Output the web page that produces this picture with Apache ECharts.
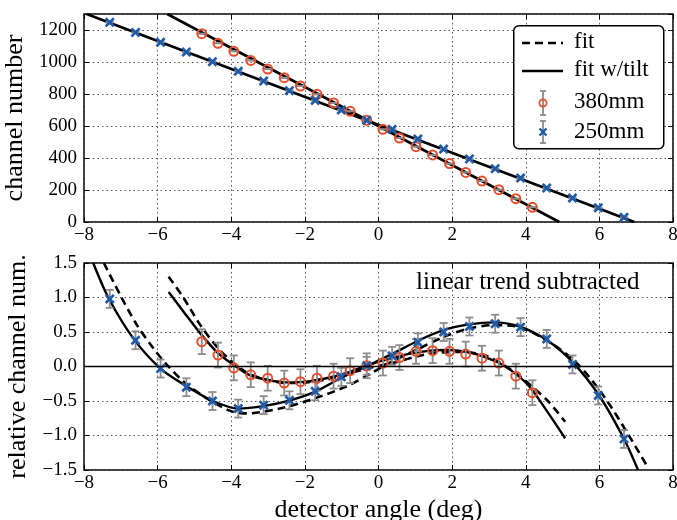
<!DOCTYPE html>
<html><head><meta charset="utf-8">
<script src="https://cdn.jsdelivr.net/npm/echarts@6/dist/echarts.min.js"></script>
<style>html,body{margin:0;padding:0;background:#fff}#c{width:677px;height:520px}</style>
</head><body><div id="c"></div>
<script>
// ---- data ----
const angle380 = [-4.80,-4.36,-3.93,-3.47,-3.01,-2.56,-2.12,-1.67,-1.22,-0.77,-0.32,0.12,0.57,1.02,1.47,1.93,2.37,2.81,3.27,3.73,4.18];
const chan380  = [1177,1117,1067,1010,956,902,850,798,744,692,636,579,525,471,419,365,310,256,202,146,92];
const resid380 = [0.36,0.165,-0.02,-0.12,-0.17,-0.24,-0.22,-0.17,-0.14,-0.06,0.01,0.05,0.13,0.22,0.23,0.22,0.18,0.12,0.05,-0.14,-0.38];
const err380   = [0.18,0.18,0.18,0.18,0.18,0.18,0.18,0.18,0.18,0.18,0.18,0.18,0.18,0.18,0.18,0.18,0.18,0.18,0.18,0.18,0.18];

const angle250 = [-7.30,-6.60,-5.92,-5.22,-4.51,-3.81,-3.12,-2.42,-1.72,-1.01,-0.32,0.37,1.07,1.77,2.47,3.17,3.86,4.57,5.27,5.97,6.67];
const chan250  = [1248,1185,1123,1062,1002,942,881,821,760,700,636,579,519,456,394,333,275,213,150,89,29];
const resid250 = [0.98,0.38,-0.03,-0.30,-0.50,-0.61,-0.56,-0.49,-0.36,-0.15,0.01,0.155,0.35,0.50,0.58,0.62,0.57,0.40,0.03,-0.42,-1.05];
const err250   = [0.13,0.13,0.13,0.13,0.13,0.13,0.13,0.13,0.13,0.13,0.13,0.13,0.13,0.13,0.13,0.13,0.13,0.13,0.13,0.13,0.13];

// top-panel fit lines (angle, channel)
const topFit380 = [[-5.74,1300],[4.91,0]];
const topFit250 = [[-7.93,1300],[6.95,0]];

// bottom-panel fit curves (angle, relative channel)
const tilt380 = [[-5.70,1.08],[-5.29,0.79],[-4.84,0.48],[-4.39,0.21],[-3.98,0.04],[-3.50,-0.125],[-2.96,-0.20],[-2.51,-0.23],[-1.96,-0.22],[-1.33,-0.16],[-0.79,-0.08],[-0.24,0.03],[0.30,0.11],[0.80,0.18],[1.40,0.23],[1.87,0.24],[2.42,0.21],[2.87,0.14],[3.32,0.04],[3.77,-0.125],[4.10,-0.29],[4.53,-0.61],[5.07,-1.04]];
const fit380  = [[-5.70,1.30],[-5.29,0.99],[-4.84,0.60],[-4.39,0.285],[-3.98,0.07],[-3.50,-0.11],[-2.96,-0.20],[-2.51,-0.24],[-1.96,-0.23],[-1.33,-0.18],[-0.79,-0.10],[-0.24,-0.02],[0.52,0.07],[1.06,0.15],[1.60,0.20],[2.23,0.21],[2.87,0.165],[3.41,0.02],[3.86,-0.15],[4.17,-0.29],[4.62,-0.51],[5.07,-0.80]];
const tilt250 = [[-7.75,1.50],[-7.33,0.99],[-6.65,0.40],[-5.92,-0.03],[-5.20,-0.29],[-4.50,-0.50],[-3.80,-0.61],[-3.10,-0.57],[-2.40,-0.49],[-1.70,-0.36],[-1.00,-0.16],[-0.30,0.01],[0.40,0.19],[1.06,0.37],[1.78,0.53],[2.46,0.61],[3.14,0.64],[3.86,0.575],[4.58,0.38],[5.26,0.07],[5.98,-0.41],[6.66,-1.04],[7.05,-1.50]];
const fit250  = [[-7.46,1.50],[-7.01,1.03],[-6.56,0.60],[-6.11,0.26],[-5.74,0.02],[-5.29,-0.22],[-4.70,-0.45],[-4.04,-0.64],[-3.59,-0.68],[-2.69,-0.61],[-1.78,-0.47],[-0.88,-0.29],[-0.24,-0.11],[0.43,0.09],[1.06,0.25],[1.78,0.43],[2.46,0.55],[3.14,0.60],[3.86,0.565],[4.71,0.33],[5.44,0.02],[6.16,-0.46],[6.79,-0.99],[7.27,-1.42]];

const legendNames = ['fit','fit w/tilt','380mm','250mm'];
const annotation = 'linear trend subtracted';

// ---- styling ----
const RED = '#e84e2c', BLUE = '#1f5aa8', GRAY = '#8c8c8c';
const FONT = 'Liberation Serif';
const XPATH = 'path://M0,1.9 L1.9,0 L5,3.1 L8.1,0 L10,1.9 L6.9,5 L10,8.1 L8.1,10 L5,6.9 L1.9,10 L0,8.1 L3.1,5 Z';
const minus = s => String(s).replace('-', '\u2212');

function errRender(params, api){
  const x = api.value(0), y = api.value(1), e = api.value(2);
  const t = api.coord([x, y + e]), b = api.coord([x, y - e]);
  const cw = 4;
  const style = {stroke: GRAY, lineWidth: 1.8, fill: null};
  return {type: 'group', children: [
    {type: 'line', shape: {x1: t[0], y1: t[1], x2: b[0], y2: b[1]}, style},
    {type: 'line', shape: {x1: t[0]-cw, y1: t[1], x2: t[0]+cw, y2: t[1]}, style},
    {type: 'line', shape: {x1: b[0]-cw, y1: b[1], x2: b[0]+cw, y2: b[1]}, style}
  ]};
}

const split = {show: true, lineStyle: {color: '#555', width: 1, type: [1.5, 3]}};
const tick = {show: true, inside: true, length: 5, lineStyle: {color: '#000', width: 1}};
const lbl = {fontFamily: FONT, fontSize: 19, color: '#000'};
const noLine = {show: false, onZero: false};

function xAx(grid, pos, withLabels, extra){
  return Object.assign({type: 'value', gridIndex: grid, position: pos, min: -8, max: 8, interval: 2,
    axisLine: noLine, axisTick: tick, splitLine: withLabels ? split : {show: false},
    axisLabel: withLabels ? Object.assign({margin: 4, formatter: v => minus(v)}, lbl) : {show: false}}, extra || {});
}
function yAx(grid, pos, withLabels, min, max, interval, fmt, extra){
  return Object.assign({type: 'value', gridIndex: grid, position: pos, min, max, interval,
    axisLine: noLine, axisTick: tick, splitLine: withLabels ? split : {show: false},
    axisLabel: withLabels ? Object.assign({margin: 7, formatter: fmt}, lbl) : {show: false}}, extra || {});
}

const nameStyle = {fontFamily: FONT, fontSize: 26, color: '#000'};

const chart = echarts.init(document.getElementById('c'), null, {renderer: 'canvas'});
chart.setOption({
  animation: false,
  backgroundColor: '#fff',
  grid: [
    {left: 84, right: 4, top: 14, height: 208, containLabel: false, outerBoundsMode: 'none', show: true, borderColor: '#000', borderWidth: 1.5, backgroundColor: 'transparent'},
    {left: 84, right: 4, top: 263, height: 207, containLabel: false, outerBoundsMode: 'none', show: true, borderColor: '#000', borderWidth: 1.5, backgroundColor: 'transparent'}
  ],
  xAxis: [
    xAx(0, 'bottom', true),
    xAx(0, 'top', false),
    xAx(1, 'bottom', true, {name: 'detector angle (deg)', nameLocation: 'middle', nameGap: 27, nameTextStyle: nameStyle}),
    xAx(1, 'top', false)
  ],
  yAxis: [
    yAx(0, 'left', true, 0, 1300, 200, v => (v % 200 === 0 ? String(v) : ''),
        {name: 'channel number', nameLocation: 'middle', nameGap: 47, nameTextStyle: nameStyle}),
    yAx(0, 'right', false, 0, 1300, 200),
    yAx(1, 'left', true, -1.5, 1.5, 0.5, v => minus(v.toFixed(1)),
        {name: 'relative channel num.', nameLocation: 'middle', nameGap: 43, nameTextStyle: nameStyle}),
    yAx(1, 'right', false, -1.5, 1.5, 0.5)
  ],
  series: [
    // top panel
    {type: 'line', xAxisIndex: 0, yAxisIndex: 0, data: topFit380, symbol: 'none', lineStyle: {color: '#000', width: 2.6}, z: 2, silent: true},
    {type: 'line', xAxisIndex: 0, yAxisIndex: 0, data: topFit250, symbol: 'none', lineStyle: {color: '#000', width: 2.6}, z: 2, silent: true},
    {type: 'custom', xAxisIndex: 0, yAxisIndex: 0, renderItem: errRender, data: angle380.map((a, i) => [a, chan380[i], err380[i]]), encode: {x: 0, y: 1}, z: 3, silent: true},
    {type: 'custom', xAxisIndex: 0, yAxisIndex: 0, renderItem: errRender, data: angle250.map((a, i) => [a, chan250[i], err250[i]]), encode: {x: 0, y: 1}, z: 3, silent: true},
    {type: 'scatter', xAxisIndex: 0, yAxisIndex: 0, data: angle380.map((a, i) => [a, chan380[i]]), symbol: 'circle', symbolSize: 9,
      itemStyle: {color: 'rgba(0,0,0,0)', borderColor: RED, borderWidth: 2, opacity: 1}, z: 4, silent: true},
    {type: 'scatter', xAxisIndex: 0, yAxisIndex: 0, data: angle250.map((a, i) => [a, chan250[i]]), symbol: XPATH, symbolSize: 10,
      itemStyle: {color: BLUE, opacity: 1}, z: 4, silent: true},
    // bottom panel
    {type: 'line', xAxisIndex: 2, yAxisIndex: 2, data: fit380, symbol: 'none', smooth: 0.3, lineStyle: {color: '#000', width: 2.6, type: [8, 5]}, z: 2, silent: true,
      markLine: {silent: true, symbol: 'none', label: {show: false}, animation: false, data: [{yAxis: 0}], lineStyle: {color: '#000', width: 1.3, type: 'solid'}}},
    {type: 'line', xAxisIndex: 2, yAxisIndex: 2, data: fit250, symbol: 'none', smooth: 0.3, lineStyle: {color: '#000', width: 2.6, type: [8, 5]}, z: 2, silent: true},
    {type: 'line', xAxisIndex: 2, yAxisIndex: 2, data: tilt380, symbol: 'none', smooth: 0.3, lineStyle: {color: '#000', width: 2.4}, z: 2, silent: true},
    {type: 'line', xAxisIndex: 2, yAxisIndex: 2, data: tilt250, symbol: 'none', smooth: 0.3, lineStyle: {color: '#000', width: 2.4}, z: 2, silent: true},
    {type: 'custom', xAxisIndex: 2, yAxisIndex: 2, renderItem: errRender, data: angle380.map((a, i) => [a, resid380[i], err380[i]]), encode: {x: 0, y: 1}, z: 3, silent: true},
    {type: 'custom', xAxisIndex: 2, yAxisIndex: 2, renderItem: errRender, data: angle250.map((a, i) => [a, resid250[i], err250[i]]), encode: {x: 0, y: 1}, z: 3, silent: true},
    {type: 'scatter', xAxisIndex: 2, yAxisIndex: 2, data: angle380.map((a, i) => [a, resid380[i]]), symbol: 'circle', symbolSize: 9,
      itemStyle: {color: 'rgba(0,0,0,0)', borderColor: RED, borderWidth: 2, opacity: 1}, z: 4, silent: true},
    {type: 'scatter', xAxisIndex: 2, yAxisIndex: 2, data: angle250.map((a, i) => [a, resid250[i]]), symbol: XPATH, symbolSize: 10,
      itemStyle: {color: BLUE, opacity: 1}, z: 4, silent: true}
  ],
  graphic: [
    // annotation
    {type: 'text', left: 416, top: 270, z: 10, style: {text: annotation, fontFamily: FONT, fontSize: 25, fill: '#000'}},
    // legend
    {type: 'rect', left: 513, top: 25, z: 10, shape: {width: 150, height: 123, r: 5}, style: {fill: '#fff', stroke: '#000', lineWidth: 1.5}},
    {type: 'line', z: 11, shape: {x1: 522, y1: 43, x2: 563, y2: 43}, style: {stroke: '#000', lineWidth: 2.6, lineDash: [8, 5]}},
    {type: 'line', z: 11, shape: {x1: 522, y1: 71, x2: 563, y2: 71}, style: {stroke: '#000', lineWidth: 2.6}},
    {type: 'line', z: 11, shape: {x1: 543, y1: 91, x2: 543, y2: 115}, style: {stroke: GRAY, lineWidth: 1.8}},
    {type: 'line', z: 11, shape: {x1: 540, y1: 91, x2: 546, y2: 91}, style: {stroke: GRAY, lineWidth: 1.8}},
    {type: 'line', z: 11, shape: {x1: 540, y1: 115, x2: 546, y2: 115}, style: {stroke: GRAY, lineWidth: 1.8}},
    {type: 'circle', z: 12, shape: {cx: 543, cy: 103, r: 3.6}, style: {fill: 'rgba(0,0,0,0)', stroke: RED, lineWidth: 1.8}},
    {type: 'line', z: 11, shape: {x1: 543, y1: 121, x2: 543, y2: 143}, style: {stroke: GRAY, lineWidth: 1.8}},
    {type: 'line', z: 11, shape: {x1: 540, y1: 121, x2: 546, y2: 121}, style: {stroke: GRAY, lineWidth: 1.8}},
    {type: 'line', z: 11, shape: {x1: 540, y1: 143, x2: 546, y2: 143}, style: {stroke: GRAY, lineWidth: 1.8}},
    {type: 'line', z: 12, shape: {x1: 539.5, y1: 128.5, x2: 546.5, y2: 135.5}, style: {stroke: BLUE, lineWidth: 2.4}},
    {type: 'line', z: 12, shape: {x1: 546.5, y1: 128.5, x2: 539.5, y2: 135.5}, style: {stroke: BLUE, lineWidth: 2.4}},
    {type: 'text', z: 12, left: 574, top: 30, style: {text: legendNames[0], fontFamily: FONT, fontSize: 23, fill: '#000'}},
    {type: 'text', z: 12, left: 574, top: 58, style: {text: legendNames[1], fontFamily: FONT, fontSize: 23, fill: '#000'}},
    {type: 'text', z: 12, left: 574, top: 90, style: {text: legendNames[2], fontFamily: FONT, fontSize: 23, fill: '#000'}},
    {type: 'text', z: 12, left: 574, top: 120, style: {text: legendNames[3], fontFamily: FONT, fontSize: 23, fill: '#000'}}
  ]
});
</script>
</body></html>
